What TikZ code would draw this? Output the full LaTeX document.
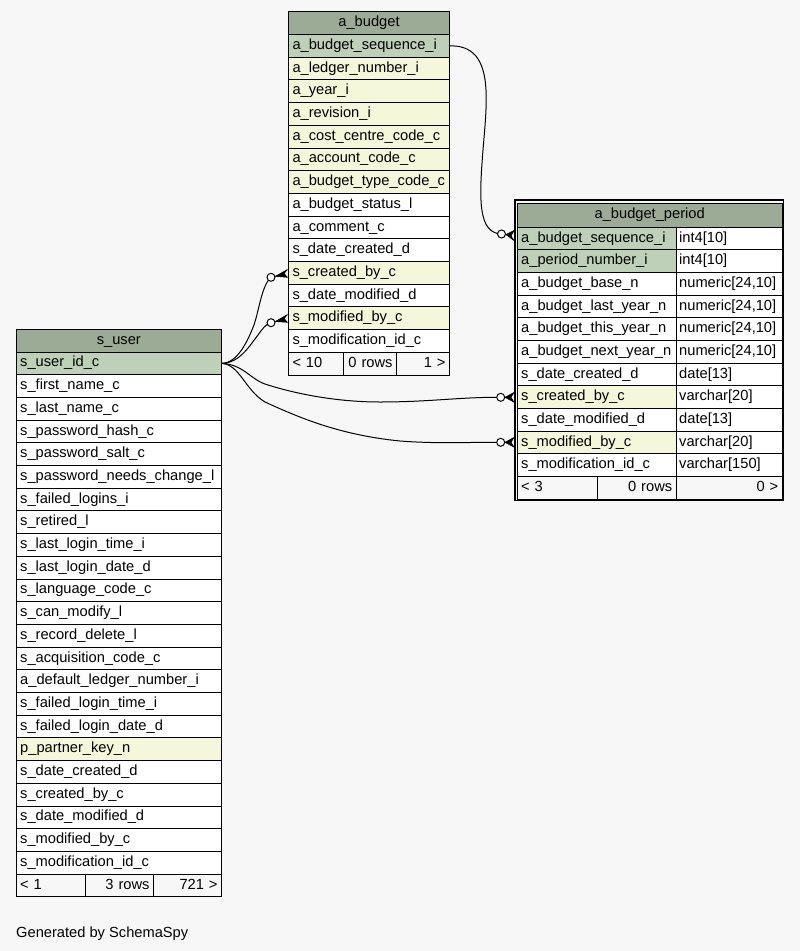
\documentclass[tikz,border=0pt]{standalone}
\usepackage{fontspec}
\setmainfont{Liberation Sans}
\definecolor{bgc}{HTML}{F7F7F7}
\definecolor{hdc}{HTML}{9BAB96}
\definecolor{pkc}{HTML}{BED1B8}
\definecolor{fkc}{HTML}{F4F7DA}
\newcommand\tfont{\fontsize{14.67}{17}\selectfont}
\tikzset{
  cellbox/.style={draw=black, line width=1pt, anchor=north west, minimum height=22.7pt,
    inner xsep=4pt, inner ysep=0pt, text height=10.6pt, text depth=3.4pt, font=\tfont, align=left},
  hdr/.style={cellbox, fill=hdc, align=center},
  conn/.style={draw=black, line width=1pt},
  odot/.style={draw=black, fill=white, line width=1pt},
  crowf/.style={fill=black, draw=black, line width=0.6pt, line join=round}
}
\newcommand\crowmark[4]{\filldraw[crowf] #1 -- #2 -- #3 -- #4 -- cycle; \draw[line width=1pt] #1 -- #3;}
\begin{document}
\begin{tikzpicture}[x=1pt, y=-1pt]
\fill[bgc] (0,0) rectangle (800,951);
\useasboundingbox (0,0) rectangle (800,951);

% ---------------- a_budget ----------------
\node[hdr, text width=153pt, minimum height=23pt] (bhead) at (288,11) {a\_budget};
\foreach \n/\f/\t [count=\i from 0] in {
  bseq/pkc/a\_budget\_sequence\_i,
  bledger/fkc/a\_ledger\_number\_i,
  byear/fkc/a\_year\_i,
  brev/fkc/a\_revision\_i,
  bcost/fkc/a\_cost\_centre\_code\_c,
  bacct/fkc/a\_account\_code\_c,
  btype/fkc/a\_budget\_type\_code\_c,
  bstatus/white/a\_budget\_status\_l,
  bcomment/white/a\_comment\_c,
  bdc/white/s\_date\_created\_d,
  bcb/fkc/s\_created\_by\_c,
  bdm/white/s\_date\_modified\_d,
  bmb/fkc/s\_modified\_by\_c,
  bmid/white/s\_modification\_id\_c}
  \node[cellbox, fill=\f, text width=153pt] (\n) at (288,{34+\i*22.7}) {\t};
\node[cellbox, text width=46.7pt] (bf1) at (288,351.8) {< 10};
\node[cellbox, text width=45.3pt, align=right] (bf2) at (342.7,351.8) {0 rows};
\node[cellbox, text width=45pt, align=right] (bf3) at (396,351.8) {1 >};

% ---------------- s_user ----------------
\node[hdr, text width=197.3pt, minimum height=23pt] (uhead) at (15.7,328.5) {s\_user};
\foreach \n/\f/\t [count=\i from 0] in {
  uid/pkc/s\_user\_id\_c,
  u1/white/s\_first\_name\_c,
  u2/white/s\_last\_name\_c,
  u3/white/s\_password\_hash\_c,
  u4/white/s\_password\_salt\_c,
  u5/white/s\_password\_needs\_change\_l,
  u6/white/s\_failed\_logins\_i,
  u7/white/s\_retired\_l,
  u8/white/s\_last\_login\_time\_i,
  u9/white/s\_last\_login\_date\_d,
  u10/white/s\_language\_code\_c,
  u11/white/s\_can\_modify\_l,
  u12/white/s\_record\_delete\_l,
  u13/white/s\_acquisition\_code\_c,
  u14/white/a\_default\_ledger\_number\_i,
  u15/white/s\_failed\_login\_time\_i,
  u16/white/s\_failed\_login\_date\_d,
  u17/fkc/p\_partner\_key\_n,
  u18/white/s\_date\_created\_d,
  u19/white/s\_created\_by\_c,
  u20/white/s\_date\_modified\_d,
  u21/white/s\_modified\_by\_c,
  u22/white/s\_modification\_id\_c}
  \node[cellbox, fill=\f, text width=197.3pt] (\n) at (15.7,{351.5+\i*22.7}) {\t};
\node[cellbox, text width=61.3pt] (uf1) at (15.7,873.6) {< 1};
\node[cellbox, text width=60pt, align=right] (uf2) at (85,873.6) {3 rows};
\node[cellbox, text width=60pt, align=right] (uf3) at (153,873.6) {721 >};

% ---------------- a_budget_period ----------------
\node[hdr, text width=257pt, minimum height=24pt] (phead) at (516.7,202.7) {a\_budget\_period};
\foreach \n/\f/\t/\ty [count=\i from 0] in {
  pseq/pkc/a\_budget\_sequence\_i/int4[10],
  pper/pkc/a\_period\_number\_i/int4[10],
  p2/white/a\_budget\_base\_n/{numeric[24,10]},
  p3/white/a\_budget\_last\_year\_n/{numeric[24,10]},
  p4/white/a\_budget\_this\_year\_n/{numeric[24,10]},
  p5/white/a\_budget\_next\_year\_n/{numeric[24,10]},
  p6/white/s\_date\_created\_d/date[13],
  pcb/fkc/s\_created\_by\_c/varchar[20],
  p8/white/s\_date\_modified\_d/date[13],
  pmb/fkc/s\_modified\_by\_c/varchar[20],
  p10/white/s\_modification\_id\_c/varchar[150]}
  {
  \node[cellbox, fill=\f, text width=151pt] (\n) at (516.7,{226.7+\i*22.66}) {\t};
  \node[cellbox, fill=white, inner xsep=3pt, text width=100pt] (\n-type) at (675.7,{226.7+\i*22.66}) {\ty};
  }
\node[cellbox, text width=72.3pt] (pf1) at (516.7,476) {< 3};
\node[cellbox, text width=70.7pt, align=right] (pf2) at (597,476) {0 rows};
\node[cellbox, text width=98pt, align=right] (pf3) at (675.7,476) {0 >};
\draw[line width=1.7pt] (514.9,200.2) rectangle (783.6,500.6);

% ---------------- connectors ----------------
\coordinate (cA) at (501.5,234);
\coordinate (cB) at (271,277.3);
\coordinate (cC) at (271,322.7);
\coordinate (cD) at (500.7,397.3);
\coordinate (cE) at (500.7,442.3);

\draw[conn] (bseq.east) .. controls (495,45) and (487,100) .. (483,150)
  .. controls (479,200) and (478,233) .. (cA);
\draw[conn] (uid.east) .. controls (238,363) and (248,340) .. (254,325)
  .. controls (259,310) and (262,285) .. (cB);
\draw[conn] (uid.east) .. controls (240,363) and (250,345) .. (258,335)
  .. controls (263,328) and (266,324) .. (cC);
\draw[conn] (uid.east) .. controls (245,365) and (250,380) .. (268,385)
  .. controls (300,395) and (340,402) .. (380,402)
  .. controls (430,402) and (460,397) .. (cD);
\draw[conn] (uid.east) .. controls (240,365) and (245,390) .. (265,402)
  .. controls (300,418) and (340,435) .. (400,441)
  .. controls (440,444) and (470,442) .. (cE);

\draw[odot] (cA) circle (4pt);
\draw[odot] (cB) circle (4pt);
\draw[odot] (cC) circle (4pt);
\draw[odot] (cD) circle (4pt);
\draw[odot] (cE) circle (4pt);

\crowmark{(506,234.5)}{(514,230.5)}{(511,236)}{(514,240.5)}
\crowmark{(275.5,276.3)}{(287.5,269.5)}{(284,273.5)}{(287.5,277.3)}
\crowmark{(275.5,321.5)}{(287.5,314.5)}{(284,318.5)}{(287.5,322.3)}
\crowmark{(505,397.3)}{(514,392.5)}{(511,397.3)}{(514,402.1)}
\crowmark{(505,442.3)}{(514,437.5)}{(511,442.3)}{(514,447.1)}

\node[font=\tfont, anchor=base west, inner sep=0pt] (gen) at (16,937) {Generated by SchemaSpy};
\end{tikzpicture}
\end{document}
